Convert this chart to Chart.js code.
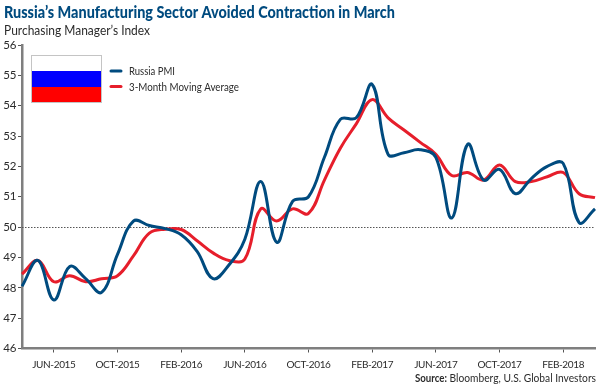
<!DOCTYPE html>
<html><head><meta charset="utf-8">
<style>html,body{margin:0;padding:0;background:#fff}#w{position:relative;width:600px;height:386px}canvas{display:block}</style>
<script src="https://cdn.jsdelivr.net/npm/chart.js@4"></script></head>
<body><div id="w"><canvas id="c" width="600" height="386"></canvas></div>
<script>
const MONTHS=['JAN','FEB','MAR','APR','MAY','JUN','JUL','AUG','SEP','OCT','NOV','DEC'];
const categories=[];
for(let y=2015,m=3;y<2018||m<=3;){categories.push(MONTHS[m]+'-'+y);m++;if(m>11){m=0;y++;}}
const tickLabels=['JUN-2015','OCT-2015','FEB-2016','JUN-2016','OCT-2016','FEB-2017','JUN-2017','OCT-2017','FEB-2018'];
const russiaPMI=[48.05,48.9,47.6,48.7,48.3,47.85,49.1,50.2,50.05,49.95,49.75,49.2,48.3,48.75,49.6,51.5,49.5,50.85,51.0,52.3,53.55,53.6,54.7,52.4,52.45,52.55,52.3,50.3,52.73,51.55,51.9,51.1,51.6,52.0,52.1,50.15,50.6];
const movingAvg=[48.45,48.9,48.2,48.4,48.2,48.3,48.4,49.05,49.8,49.93,49.92,49.55,49.15,48.9,48.95,50.6,50.2,50.6,50.45,51.55,52.6,53.4,54.2,53.6,53.2,52.8,52.4,51.7,51.8,51.55,52.05,51.5,51.5,51.66,51.8,51.1,50.97];
const threshold=50;
const titleText='Russia\u2019s Manufacturing Sector Avoided Contraction in March';
const subtitleText='Purchasing Manager\u2019s Index';
const sourceBold='Source:', sourceRest=' Bloomberg, U.S. Global Investors';
const FONT='Lato';
const TXT='#2b2b2b';

function fitText(ctx,text,x,y,width){
 const w=ctx.measureText(text).width;
 ctx.save();ctx.translate(x,y);ctx.scale(width/w,1);ctx.fillText(text,0,0);ctx.restore();
}
const extras={id:'extras',
 beforeDraw(ch){ch.ctx.letterSpacing='-0.35px';},
 beforeDatasetsDraw(ch){
  const {ctx,chartArea:a,scales:{y}}=ch;const py=Math.round(y.getPixelForValue(threshold))+.5;
  ctx.save();ctx.strokeStyle='#555';ctx.lineWidth=1;ctx.setLineDash([1.5,1.5]);
  ctx.beginPath();ctx.moveTo(a.left,py);ctx.lineTo(a.right,py);ctx.stroke();ctx.restore();
 },
 afterDraw(ch){
  const {ctx}=ch;ctx.save();ctx.letterSpacing='0px';
  ctx.textBaseline='alphabetic';ctx.textAlign='left';
  ctx.fillStyle='#004b7f';ctx.font='900 16.5px '+FONT;
  fitText(ctx,titleText,4,18,391);
  ctx.fillStyle=TXT;ctx.font='13.5px '+FONT;
  fitText(ctx,subtitleText,4,35,146);
  ctx.fillStyle='#fff';ctx.fillRect(31,55,71,16);
  ctx.fillStyle='#0000ff';ctx.fillRect(31,71,71,16);
  ctx.fillStyle='#ff0000';ctx.fillRect(31,87,71,15.5);
  ctx.strokeStyle='#c4c4c4';ctx.lineWidth=1;ctx.strokeRect(31.5,55.5,70,47);
  const legendWidths=[46,110];
  ch.data.datasets.forEach((d,i)=>{
   const ly=71+i*15.5;
   ctx.strokeStyle=d.borderColor;ctx.lineWidth=3;ctx.lineCap='round';
   ctx.beginPath();ctx.moveTo(111,ly);ctx.lineTo(121,ly);ctx.stroke();
   ctx.fillStyle=TXT;ctx.font='11px '+FONT;
   fitText(ctx,d.label,129,ly+4,legendWidths[i]);
  });
  ctx.fillStyle=TXT;
  ctx.font='bold 11px '+FONT;
  fitText(ctx,sourceBold,415,382,32);
  ctx.font='11px '+FONT;
  fitText(ctx,sourceRest,447,382,149);
  ctx.restore();
 }};

new Chart(document.getElementById('c'),{
 type:'line',
 data:{labels:categories,datasets:[
  {label:'Russia PMI',data:russiaPMI,borderColor:'#004b7f',borderWidth:3,pointRadius:0,tension:0.4},
  {label:'3-Month Moving Average',data:movingAvg,borderColor:'#e61e2b',borderWidth:3,pointRadius:0,tension:0.4}
 ]},
 plugins:[extras],
 options:{responsive:false,animation:false,
  layout:{padding:{top:45,right:5,left:0,bottom:0}},
  plugins:{legend:{display:false},title:{display:false},tooltip:{enabled:false}},
  scales:{
   x:{type:'category',offset:false,
    afterFit(s){s.height=37.5;},
    afterBuildTicks(s){s.ticks=s.ticks.filter(t=>tickLabels.includes(categories[t.value]));},
    border:{color:'#7f7f7f',width:2.5},
    grid:{drawOnChartArea:false,tickLength:4,tickColor:'#555',lineWidth:1},
    ticks:{autoSkip:false,maxRotation:0,minRotation:0,padding:6,color:TXT,font:{family:FONT,size:10}}},
   y:{min:46,max:56,
    afterFit(s){s.width=22;},
    border:{color:'#7f7f7f',width:2.5},
    grid:{drawOnChartArea:false,tickLength:4,tickColor:'#555',lineWidth:1},
    ticks:{stepSize:1,padding:2,color:TXT,font:{family:FONT,size:11.5}}}
  }}
});
</script></body></html>
